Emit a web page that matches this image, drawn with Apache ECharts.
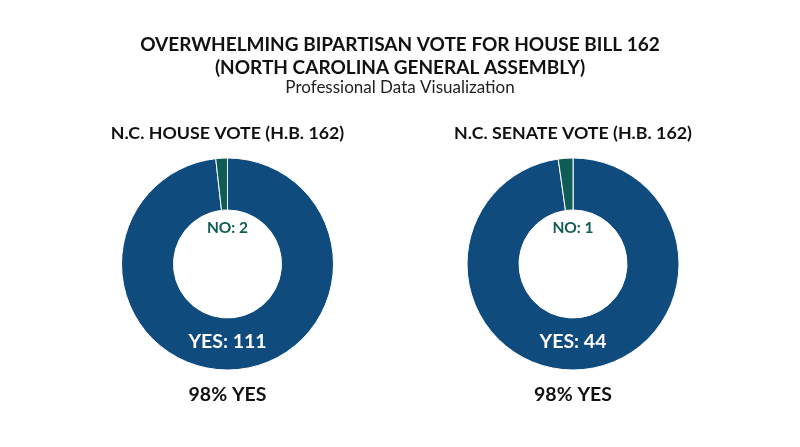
<!DOCTYPE html>
<html>
<head>
<meta charset="utf-8">
<script src="https://cdn.jsdelivr.net/npm/echarts@6/dist/echarts.min.js"></script>
<style>
html,body{margin:0;padding:0;background:#fff;}
#chart{width:800px;height:447px;}
</style>
</head>
<body>
<div id="chart"></div>
<script>
// ---- data ----
var chambers = ['N.C. HOUSE VOTE (H.B. 162)', 'N.C. SENATE VOTE (H.B. 162)'];
var voteCategories = ['YES', 'NO'];
var yesVotes = [111, 44];
var noVotes = [2, 1];
var yesShareLabels = ['98% YES', '98% YES'];

var mainTitle = 'OVERWHELMING BIPARTISAN VOTE FOR HOUSE BILL 162\n(NORTH CAROLINA GENERAL ASSEMBLY)';
var subTitle = 'Professional Data Visualization';

// ---- styles ----
var BLUE = '#104b7e';
var GREEN = '#0f5c55';
var FONT = 'Lato, "Open Sans", sans-serif';
var centersX = [227.5, 573];
var centerY = 264;

var chart = echarts.init(document.getElementById('chart'), null, {renderer: 'canvas'});

function txt(x, y, s, size, color, weight) {
  return {
    type: 'text', x: x, y: y, z: 100,
    style: {text: s, x: 0, y: 0, align: 'center', verticalAlign: 'middle',
      font: (weight || 'bold') + ' ' + size + 'px ' + FONT, fill: color}
  };
}

var titleLines = mainTitle.split('\n');
var graphics = [
  txt(400, 45, titleLines[0], 19, '#111'),
  txt(400, 68, titleLines[1], 19, '#111'),
  txt(400, 88, subTitle, 17, '#222', 'normal')
];
var series = [];
chambers.forEach(function (name, i) {
  var cx = centersX[i];
  graphics.push(txt(cx, 133, name, 17.8, '#111'));
  graphics.push(txt(cx, 395, yesShareLabels[i], 19.5, '#111'));
  graphics.push(txt(cx, 228, voteCategories[1] + ': ' + noVotes[i], 15.5, GREEN));
  graphics.push(txt(cx, 342, voteCategories[0] + ': ' + yesVotes[i], 19.5, '#fff'));
  series.push({
    type: 'pie',
    name: name,
    center: [cx, centerY],
    radius: [54, 106],
    startAngle: 90,
    clockwise: true,
    silent: true,
    z: 1,
    label: {show: false},
    labelLine: {show: false},
    itemStyle: {borderColor: '#fff', borderWidth: 1},
    data: [
      {name: voteCategories[0], value: yesVotes[i], itemStyle: {color: BLUE}},
      {name: voteCategories[1], value: noVotes[i], itemStyle: {color: GREEN}}
    ]
  });
});

chart.setOption({
  backgroundColor: '#fff',
  animation: false,
  series: series,
  graphic: {elements: graphics}
});
</script>
</body>
</html>
